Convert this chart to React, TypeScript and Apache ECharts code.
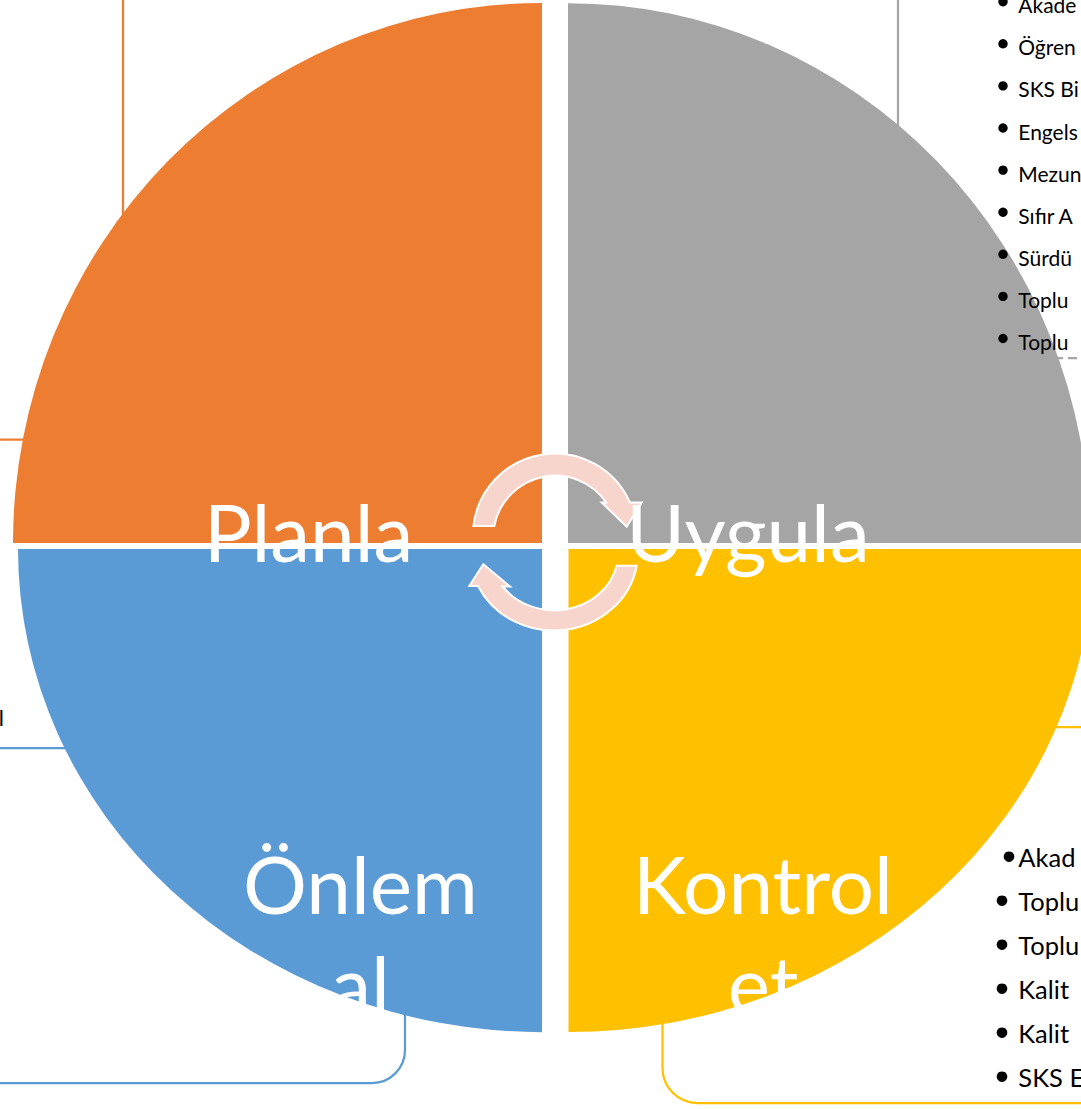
import React, { useEffect, useRef } from "react";
import * as echarts from "echarts";

// ---- content (the list texts are shown as far as the reference shows them) ----
const quadrantLabels = ["Planla", "Uygula", "Önlem\nal", "Kontrol\net"];
const quadrantColors = ["#ED7D31", "#A5A5A5", "#5B9BD5", "#FFC000"];
const uygulaItems = ["Akade", "Öğren", "SKS Bi", "Engels", "Mezun", "Sıfır A", "Sürdü", "Toplu", "Toplu"];
const kontrolItems = ["Akad", "Toplu", "Toplu", "Kalit", "Kalit", "SKS E"];
const onlemFragment = "l";

// ---- layout (positions / sizes / styles) ----
const W = 1081;
const H = 1109;
const FONT = "Lato, 'Noto Sans', sans-serif";
const ARROW_FILL = "#F8D5CC";
const LIST_X = 1018.3;

const QUAD = [
  { cx: 542, cy: 543, rx: 529, ry: 540, a0: Math.PI, a1: 1.5 * Math.PI, lx: 308.5, ly: 531, top: false },
  { cx: 568, cy: 543, rx: 522, ry: 540, a0: 1.5 * Math.PI, a1: 2 * Math.PI, lx: 748, ly: 531, top: false },
  { cx: 542, cy: 549, rx: 524, ry: 483, a0: 0.5 * Math.PI, a1: Math.PI, lx: 360.5, ly: 833, top: true },
  { cx: 568.5, cy: 549, rx: 525, ry: 483, a0: 0, a1: 0.5 * Math.PI, lx: 763, ly: 833, top: true },
];

echarts.graphic.registerShape(
  "pdcaArrowTop",
  echarts.graphic.extendPath(
    "M 473.4 526 A 82 82 0 0 1 629.9 502.5 L 641.7 502.5 L 626.7 526.7 L 601.7 502.5 L 606.3 502.5 A 62 62 0 0 0 494.3 526 Z",
    {}
  )
);
echarts.graphic.registerShape(
  "pdcaArrowBottom",
  echarts.graphic.extendPath(
    "M 636.7 565.7 A 84 78 0 0 1 478 586 L 469.3 586 L 483.3 564.3 L 510 586.5 L 502.7 586.5 A 64 58 0 0 0 616.7 565.7 Z",
    {}
  )
);
echarts.graphic.registerShape(
  "pdcaBlueBracket",
  echarts.graphic.extendPath("M 405 990 L 405 1050 A 33 33 0 0 1 372 1083 L 0 1083", {})
);
echarts.graphic.registerShape(
  "pdcaYellowBracket",
  echarts.graphic.extendPath("M 662.5 990 L 662.5 1068 A 35 35 0 0 0 697.5 1103 L 1081 1103", {})
);

function line(x1: number, y1: number, x2: number, y2: number, color: string, dash?: number[]) {
  return {
    type: "line",
    silent: true,
    shape: { x1, y1, x2, y2 },
    style: { stroke: color, lineWidth: 2.25, lineDash: dash },
  };
}

function text(
  t: string,
  x: number,
  y: number,
  size: number,
  fill: string,
  align: string,
  vAlign: string,
  lineHeight?: number
) {
  return {
    type: "text",
    silent: true,
    x,
    y,
    style: {
      text: t,
      fill,
      fontSize: size,
      fontFamily: FONT,
      align,
      verticalAlign: vAlign,
      textAlign: align,
      textVerticalAlign: vAlign,
      lineHeight: lineHeight ?? size * 1.2,
    },
  };
}

export default function App() {
  const ref = useRef<HTMLDivElement>(null);

  useEffect(() => {
    const chart = echarts.init(ref.current!, null, { renderer: "svg" });
    const els: any[] = [];

    // bracket lines of the text boxes (behind the quadrants)
    els.push(line(123, 0, 123, 260, quadrantColors[0]));
    els.push(line(0, 439.5, 60, 439.5, quadrantColors[0]));
    els.push(line(898, 0, 898, 160, quadrantColors[1]));
    els.push(line(1040, 358, 1081, 358, quadrantColors[1], [9, 5]));
    els.push(line(1040, 727, 1081, 727, quadrantColors[3]));
    els.push(line(0, 748, 90, 748, quadrantColors[2]));
    els.push({
      type: "pdcaBlueBracket",
      silent: true,
      style: { stroke: quadrantColors[2], lineWidth: 2.25, fill: null },
    });
    els.push({
      type: "pdcaYellowBracket",
      silent: true,
      style: { stroke: quadrantColors[3], lineWidth: 2.25, fill: null },
    });

    // quadrants
    QUAD.forEach((q, i) => {
      els.push({
        type: "sector",
        silent: true,
        x: q.cx,
        y: q.cy,
        scaleY: q.ry / q.rx,
        shape: { cx: 0, cy: 0, r: q.rx, r0: 0, startAngle: q.a0, endAngle: q.a1, clockwise: true },
        style: { fill: quadrantColors[i] },
      });
    });

    // Uygula list (top right)
    uygulaItems.forEach((t, i) => {
      const by = 1.7 + 42.1 * i;
      els.push({ type: "circle", silent: true, shape: { cx: 1003, cy: by, r: 4.7 }, style: { fill: "#000" } });
      els.push(text(t, LIST_X, by + 3, 21, "#000", "left", "middle"));
    });

    // Kontrol list (bottom right)
    kontrolItems.forEach((t, i) => {
      const by = 856.7 + 44 * i;
      const bx = i === 0 ? 1009 : 1002;
      els.push({ type: "circle", silent: true, shape: { cx: bx, cy: by, r: 5.3 }, style: { fill: "#000" } });
      els.push(text(t, LIST_X, by + 0.5, 25.5, "#000", "left", "middle"));
    });

    // fragment of the Önlem al box text at the left edge
    els.push(text(onlemFragment, 4, 717, 22, "#000", "right", "middle"));

    // circular arrows
    els.push({
      type: "pdcaArrowTop",
      silent: true,
      style: { fill: ARROW_FILL, stroke: "#fff", lineWidth: 2 },
    });
    els.push({
      type: "pdcaArrowBottom",
      silent: true,
      style: { fill: ARROW_FILL, stroke: "#fff", lineWidth: 2 },
    });

    // quadrant labels
    QUAD.forEach((q, i) => {
      els.push(text(quadrantLabels[i], q.lx, q.ly, 80, "#fff", "center", q.top ? "top" : "middle", 100));
    });

    chart.setOption({ animation: false, graphic: { elements: els } });
    return () => chart.dispose();
  }, []);

  return (
    <div
      ref={ref}
      style={{ position: "fixed", left: 0, top: 0, width: W, height: H, background: "#fff" }}
    />
  );
}
